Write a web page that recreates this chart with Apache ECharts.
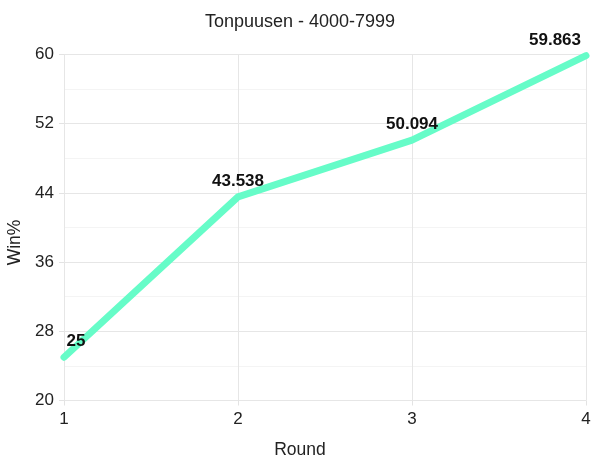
<!DOCTYPE html>
<html>
<head>
<meta charset="utf-8">
<script src="https://cdn.jsdelivr.net/npm/echarts@6/dist/echarts.min.js"></script>
<style>html,body{margin:0;padding:0;background:#fff}#c{width:600px;height:463px}</style>
</head>
<body>
<div id="c"></div>
<script>
const titleText = 'Tonpuusen - 4000-7999';
const categories = ['1', '2', '3', '4'];
const winPct = [25, 43.538, 50.094, 59.863];
const yTicks = { min: 20, max: 60, interval: 8 };
const labelOffsets = [[12, 0], [0, 0], [0, 0], [-31, 0]];

const FONT = '"Liberation Sans", Arial, sans-serif';
const chart = echarts.init(document.getElementById('c'), null, { renderer: 'canvas' });
chart.setOption({
  animation: false,
  backgroundColor: '#fff',
  title: {
    text: titleText, left: 'center', top: 8,
    textStyle: { fontFamily: FONT, fontSize: 18, fontWeight: 'normal', color: '#222' }
  },
  grid: { left: 64, right: 14, top: 54.5, bottom: 62.5, containLabel: false, outerBoundsMode: 'none' },
  xAxis: {
    type: 'category', data: categories, boundaryGap: false,
    name: 'Round', nameLocation: 'middle', nameGap: 41,
    nameTextStyle: { fontFamily: FONT, fontSize: 17.5, color: '#222', padding: [0, 50, 0, 0] },
    axisLine: { show: false },
    axisTick: { show: true, length: 5, lineStyle: { color: '#e3e3e3' } },
    axisLabel: { fontFamily: FONT, fontSize: 17, color: '#222', margin: 10 },
    splitLine: { show: true, lineStyle: { color: '#e6e6e6', width: 1 } }
  },
  yAxis: {
    type: 'value', min: yTicks.min, max: yTicks.max, interval: yTicks.interval,
    name: 'Win%', nameLocation: 'middle', nameGap: 33,
    nameTextStyle: { fontFamily: FONT, fontSize: 17.5, color: '#222', padding: [0, 30, 0, 0] },
    axisLine: { show: false },
    axisTick: { show: true, length: 5, lineStyle: { color: '#e3e3e3' } },
    axisLabel: { fontFamily: FONT, fontSize: 17, color: '#222', margin: 10 },
    splitLine: { show: true, lineStyle: { color: '#e6e6e6', width: 1 } },
    minorTick: { show: false, splitNumber: 2 },
    minorSplitLine: { show: true, lineStyle: { color: '#f4f4f4', width: 1 } }
  },
  series: [{
    type: 'line',
    data: winPct.map((v, i) => ({ value: v, label: { offset: labelOffsets[i] } })),
    showSymbol: true,
    symbol: 'circle',
    symbolSize: 0.1,
    lineStyle: { color: '#66fcc8', width: 7, cap: 'round', join: 'round' },
    itemStyle: { color: '#66fcc8' },
    label: {
      show: true, position: 'top', distance: 7,
      fontFamily: FONT, fontSize: 17, fontWeight: 'bold', color: '#111'
    }
  }]
});
</script>
</body>
</html>
